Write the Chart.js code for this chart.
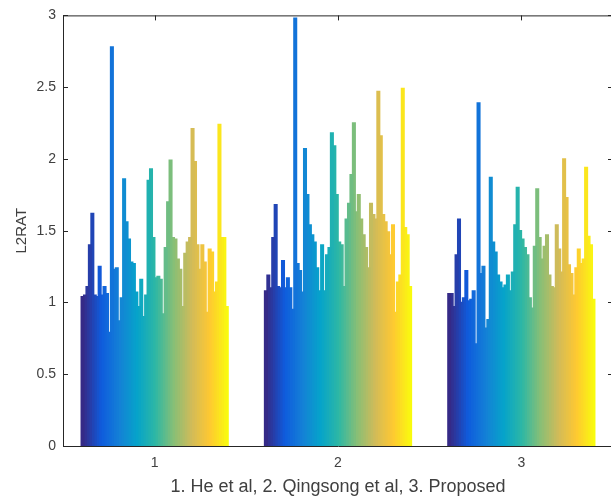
<!DOCTYPE html>
<html>
<head>
<meta charset="utf-8">
<script src="https://cdn.jsdelivr.net/npm/chart.js@4"></script>
<style>
  body { margin: 0; background: #fff; overflow: hidden; }
  #wrap { width: 614px; height: 504px; }
</style>
</head>
<body>
<div id="wrap"><canvas id="myChart" width="614" height="504"></canvas></div>
<script>
// groups on the x axis
const categories = ['1', '2', '3'];

// L2RAT per image (60 bars per group)
const heValues = [
  1.04, 1.05, 1.11, 1.40, 1.62, 1.05, 1.04, 1.25, 1.05, 1.11,
  1.06, 0.79, 2.78, 1.23, 1.24, 0.87, 1.03, 1.86, 1.56, 1.44,
  1.28, 1.27, 1.07, 0.97, 1.16, 0.90, 1.05, 1.85, 1.93, 1.45,
  1.17, 1.18, 1.16, 0.92, 1.38, 1.70, 1.99, 1.45, 1.44, 1.30,
  1.23, 0.97, 1.34, 1.42, 1.45, 2.21, 1.98, 1.40, 1.23, 1.40,
  1.28, 0.93, 1.37, 1.35, 1.07, 1.14, 2.24, 1.45, 1.45, 0.97
];
const qingsongValues = [
  1.08, 1.19, 1.10, 1.45, 1.68, 1.11, 1.10, 1.29, 1.10, 1.17,
  1.10, 0.95, 2.98, 1.27, 1.22, 1.07, 2.07, 1.75, 1.54, 1.47,
  1.42, 1.24, 1.08, 1.40, 1.08, 1.33, 1.38, 2.18, 2.09, 1.75,
  1.42, 1.40, 1.11, 1.58, 1.69, 1.89, 2.25, 1.63, 1.75, 1.58,
  1.47, 1.38, 1.24, 1.69, 1.61, 1.58, 2.47, 2.16, 1.61, 1.56,
  1.49, 1.33, 1.54, 0.93, 1.14, 1.19, 2.49, 1.52, 1.47, 1.11
];
const proposedValues = [
  1.06, 1.06, 0.97, 1.33, 1.58, 1.00, 1.03, 1.22, 1.01, 1.02,
  1.08, 0.71, 2.39, 1.20, 1.25, 0.82, 0.88, 1.87, 1.42, 1.35,
  1.19, 1.14, 1.10, 1.12, 1.19, 1.08, 1.21, 1.54, 1.80, 1.50,
  1.44, 1.38, 1.33, 1.03, 0.96, 1.39, 1.79, 1.45, 1.30, 1.39,
  1.47, 1.19, 1.11, 1.10, 1.54, 1.37, 1.21, 2.00, 1.73, 1.26,
  1.20, 1.05, 1.24, 1.37, 1.27, 1.30, 1.94, 1.46, 1.40, 1.02
];

// parula-ish colormap anchors
const parula = [
  [53, 42, 135], [15, 92, 221], [20, 129, 214], [6, 164, 202],
  [46, 183, 164], [135, 191, 119], [209, 187, 89], [254, 200, 50], [249, 251, 14]
];

function parulaColor(t)
{
    let pos = t * (parula.length - 1);
    let i = Math.min(Math.floor(pos), parula.length - 2);
    let f = pos - i;
    let c = parula[i].map((v, k) => Math.round(v + (parula[i + 1][k] - v) * f));
    return 'rgb(' + c.join(',') + ')';
}

let datasets = [];
for(let i = 0; i < heValues.length; i++)
{
    datasets.push({
        label: 'img' + (i + 1),
        data: [heValues[i], qingsongValues[i], proposedValues[i]],
        backgroundColor: parulaColor(i / (heValues.length - 1)),
        borderWidth: 0,
        inflateAmount: 0.8,
        categoryPercentage: 0.8,
        barPercentage: 1.0
    });
}

const axisColor = '#262626';
const textColor = '#404040';

// MATLAB style box with inward ticks
const boxPlugin =
{
    id: 'box',
    beforeDatasetsDraw(chart)
    {
        const ctx = chart.ctx;
        const a = chart.chartArea;
        const x = chart.scales.x;
        const y = chart.scales.y;
        ctx.save();
        ctx.strokeStyle = axisColor;
        ctx.lineWidth = 1;
        ctx.beginPath();
        ctx.rect(a.left + 0.5, a.top + 0.5, a.right - a.left, a.bottom - a.top);
        y.ticks.forEach(t =>
        {
            const py = Math.round(y.getPixelForValue(t.value)) + 0.5;
            ctx.moveTo(a.left, py); ctx.lineTo(a.left + 5, py);
            ctx.moveTo(a.right, py); ctx.lineTo(a.right - 5, py);
        });
        categories.forEach((c, i) =>
        {
            const px = Math.round(x.getPixelForValue(i)) + 0.5;
            ctx.moveTo(px, a.top); ctx.lineTo(px, a.top + 5);
            ctx.moveTo(px, a.bottom); ctx.lineTo(px, a.bottom - 5);
        });
        ctx.stroke();
        ctx.restore();
    }
};

new Chart(document.getElementById('myChart'),
{
    type: 'bar',
    data: { labels: categories, datasets: datasets },
    options:
    {
        responsive: false,
        animation: false,
        devicePixelRatio: 1,
        layout: { padding: { top: 12, right: 1, left: 0, bottom: 0 } },
        plugins: { legend: { display: false }, tooltip: { enabled: false } },
        scales:
        {
            x:
            {
                offset: true,
                grid: { display: false, drawTicks: false },
                border: { display: false },
                ticks: { color: textColor, font: { family: 'Liberation Sans, Arial', size: 14 }, padding: 9 },
                title:
                {
                    display: true,
                    text: '1. He et al, 2. Qingsong et al, 3. Proposed',
                    color: textColor,
                    font: { family: 'Liberation Sans, Arial', size: 18 },
                    padding: { top: 0, bottom: 6 }
                },
                afterFit(scale) { scale.height = 58; }
            },
            y:
            {
                min: 0,
                max: 3,
                grid: { display: false, drawTicks: false },
                border: { display: false },
                ticks:
                {
                    stepSize: 0.5,
                    color: textColor,
                    font: { family: 'Liberation Sans, Arial', size: 14 },
                    padding: 7,
                    callback: v => String(v)
                },
                title:
                {
                    display: true,
                    text: 'L2RAT',
                    color: textColor,
                    font: { family: 'Liberation Sans, Arial', size: 15 },
                    padding: { top: 13, bottom: 0 }
                },
                afterFit(scale) { scale.width = 63; }
            }
        }
    },
    plugins: [boxPlugin]
});
</script>
</body>
</html>
